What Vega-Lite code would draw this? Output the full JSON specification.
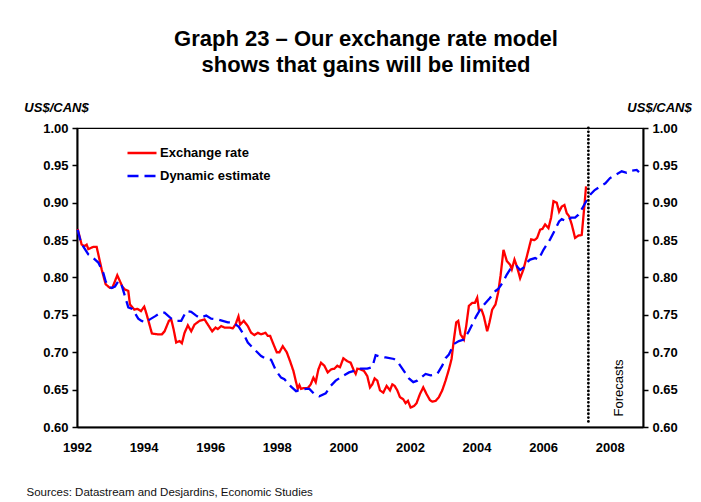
{
  "$schema": "https://vega.github.io/schema/vega-lite/v6.json",
  "width": 566,
  "height": 299,
  "autosize": "none",
  "padding": {"left": 77, "top": 128, "right": 58, "bottom": 75},
  "background": "white",
  "config": {
    "font": "Liberation Sans",
    "view": {"stroke": "black", "strokeWidth": 1.2},
    "axis": {
      "domainColor": "black", "domainWidth": 2, "grid": false,
      "labelFont": "Liberation Sans", "labelFontSize": 13, "labelFontWeight": "bold", "labelColor": "black",
      "tickColor": "black", "tickSize": 5, "tickWidth": 1.5, "labelOverlap": false, "labelFlush": false
    }
  },
  "title": {
    "text": ["Graph 23 – Our exchange rate model", "shows that gains will be limited"],
    "fontSize": 22, "fontWeight": "bold", "font": "Liberation Sans", "color": "black",
    "anchor": "middle", "frame": "group", "offset": 24, "lineHeight": 26, "dx": 6
  },
  "datasets": {
    "series": [
      {"t":1992.02,"v":0.865,"s":"Exchange rate"},{"t":1992.14,"v":0.844,"s":"Exchange rate"},{"t":1992.22,"v":0.842,"s":"Exchange rate"},{"t":1992.29,"v":0.844,"s":"Exchange rate"},{"t":1992.34,"v":0.838,"s":"Exchange rate"},{"t":1992.49,"v":0.841,"s":"Exchange rate"},{"t":1992.59,"v":0.841,"s":"Exchange rate"},{"t":1992.74,"v":0.811,"s":"Exchange rate"},{"t":1992.86,"v":0.791,"s":"Exchange rate"},{"t":1992.99,"v":0.786,"s":"Exchange rate"},
      {"t":1993.06,"v":0.786,"s":"Exchange rate"},{"t":1993.21,"v":0.803,"s":"Exchange rate"},{"t":1993.29,"v":0.795,"s":"Exchange rate"},{"t":1993.36,"v":0.788,"s":"Exchange rate"},{"t":1993.44,"v":0.784,"s":"Exchange rate"},{"t":1993.54,"v":0.782,"s":"Exchange rate"},{"t":1993.59,"v":0.764,"s":"Exchange rate"},{"t":1993.72,"v":0.757,"s":"Exchange rate"},{"t":1993.82,"v":0.758,"s":"Exchange rate"},{"t":1993.92,"v":0.755,"s":"Exchange rate"},
      {"t":1994.02,"v":0.761,"s":"Exchange rate"},{"t":1994.09,"v":0.751,"s":"Exchange rate"},{"t":1994.25,"v":0.725,"s":"Exchange rate"},{"t":1994.42,"v":0.724,"s":"Exchange rate"},{"t":1994.55,"v":0.724,"s":"Exchange rate"},{"t":1994.63,"v":0.728,"s":"Exchange rate"},{"t":1994.76,"v":0.742,"s":"Exchange rate"},{"t":1994.83,"v":0.744,"s":"Exchange rate"},{"t":1994.90,"v":0.731,"s":"Exchange rate"},{"t":1994.98,"v":0.713,"s":"Exchange rate"},
      {"t":1995.08,"v":0.715,"s":"Exchange rate"},{"t":1995.15,"v":0.712,"s":"Exchange rate"},{"t":1995.23,"v":0.726,"s":"Exchange rate"},{"t":1995.33,"v":0.736,"s":"Exchange rate"},{"t":1995.43,"v":0.728,"s":"Exchange rate"},{"t":1995.53,"v":0.737,"s":"Exchange rate"},{"t":1995.68,"v":0.742,"s":"Exchange rate"},{"t":1995.83,"v":0.744,"s":"Exchange rate"},{"t":1995.93,"v":0.737,"s":"Exchange rate"},
      {"t":1996.06,"v":0.728,"s":"Exchange rate"},{"t":1996.16,"v":0.733,"s":"Exchange rate"},{"t":1996.23,"v":0.731,"s":"Exchange rate"},{"t":1996.33,"v":0.735,"s":"Exchange rate"},{"t":1996.43,"v":0.733,"s":"Exchange rate"},{"t":1996.58,"v":0.733,"s":"Exchange rate"},{"t":1996.68,"v":0.732,"s":"Exchange rate"},{"t":1996.76,"v":0.737,"s":"Exchange rate"},{"t":1996.85,"v":0.748,"s":"Exchange rate"},{"t":1996.90,"v":0.737,"s":"Exchange rate"},
      {"t":1997.01,"v":0.742,"s":"Exchange rate"},{"t":1997.13,"v":0.735,"s":"Exchange rate"},{"t":1997.23,"v":0.726,"s":"Exchange rate"},{"t":1997.33,"v":0.723,"s":"Exchange rate"},{"t":1997.43,"v":0.726,"s":"Exchange rate"},{"t":1997.53,"v":0.724,"s":"Exchange rate"},{"t":1997.66,"v":0.726,"s":"Exchange rate"},{"t":1997.73,"v":0.722,"s":"Exchange rate"},{"t":1997.80,"v":0.722,"s":"Exchange rate"},{"t":1997.88,"v":0.713,"s":"Exchange rate"},
      {"t":1998.00,"v":0.700,"s":"Exchange rate"},{"t":1998.08,"v":0.700,"s":"Exchange rate"},{"t":1998.18,"v":0.708,"s":"Exchange rate"},{"t":1998.30,"v":0.700,"s":"Exchange rate"},{"t":1998.40,"v":0.688,"s":"Exchange rate"},{"t":1998.50,"v":0.675,"s":"Exchange rate"},{"t":1998.58,"v":0.660,"s":"Exchange rate"},{"t":1998.63,"v":0.651,"s":"Exchange rate"},{"t":1998.68,"v":0.656,"s":"Exchange rate"},{"t":1998.73,"v":0.651,"s":"Exchange rate"},{"t":1998.80,"v":0.652,"s":"Exchange rate"},{"t":1998.93,"v":0.652,"s":"Exchange rate"},
      {"t":1999.02,"v":0.657,"s":"Exchange rate"},{"t":1999.10,"v":0.666,"s":"Exchange rate"},{"t":1999.17,"v":0.660,"s":"Exchange rate"},{"t":1999.25,"v":0.677,"s":"Exchange rate"},{"t":1999.33,"v":0.686,"s":"Exchange rate"},{"t":1999.43,"v":0.682,"s":"Exchange rate"},{"t":1999.53,"v":0.673,"s":"Exchange rate"},{"t":1999.63,"v":0.677,"s":"Exchange rate"},{"t":1999.73,"v":0.678,"s":"Exchange rate"},{"t":1999.82,"v":0.682,"s":"Exchange rate"},{"t":1999.90,"v":0.680,"s":"Exchange rate"},
      {"t":2000.00,"v":0.692,"s":"Exchange rate"},{"t":2000.12,"v":0.688,"s":"Exchange rate"},{"t":2000.22,"v":0.686,"s":"Exchange rate"},{"t":2000.32,"v":0.675,"s":"Exchange rate"},{"t":2000.37,"v":0.671,"s":"Exchange rate"},{"t":2000.42,"v":0.678,"s":"Exchange rate"},{"t":2000.52,"v":0.677,"s":"Exchange rate"},{"t":2000.62,"v":0.675,"s":"Exchange rate"},{"t":2000.72,"v":0.668,"s":"Exchange rate"},{"t":2000.80,"v":0.653,"s":"Exchange rate"},{"t":2000.87,"v":0.657,"s":"Exchange rate"},{"t":2000.94,"v":0.665,"s":"Exchange rate"},
      {"t":2001.02,"v":0.662,"s":"Exchange rate"},{"t":2001.10,"v":0.649,"s":"Exchange rate"},{"t":2001.20,"v":0.646,"s":"Exchange rate"},{"t":2001.30,"v":0.655,"s":"Exchange rate"},{"t":2001.40,"v":0.649,"s":"Exchange rate"},{"t":2001.47,"v":0.657,"s":"Exchange rate"},{"t":2001.54,"v":0.655,"s":"Exchange rate"},{"t":2001.62,"v":0.649,"s":"Exchange rate"},{"t":2001.70,"v":0.640,"s":"Exchange rate"},{"t":2001.80,"v":0.637,"s":"Exchange rate"},{"t":2001.87,"v":0.632,"s":"Exchange rate"},{"t":2001.94,"v":0.635,"s":"Exchange rate"},
      {"t":2002.02,"v":0.626,"s":"Exchange rate"},{"t":2002.12,"v":0.628,"s":"Exchange rate"},{"t":2002.20,"v":0.632,"s":"Exchange rate"},{"t":2002.30,"v":0.644,"s":"Exchange rate"},{"t":2002.40,"v":0.653,"s":"Exchange rate"},{"t":2002.50,"v":0.644,"s":"Exchange rate"},{"t":2002.60,"v":0.636,"s":"Exchange rate"},{"t":2002.67,"v":0.634,"s":"Exchange rate"},{"t":2002.77,"v":0.635,"s":"Exchange rate"},{"t":2002.87,"v":0.640,"s":"Exchange rate"},{"t":2002.97,"v":0.649,"s":"Exchange rate"},
      {"t":2003.07,"v":0.662,"s":"Exchange rate"},{"t":2003.17,"v":0.677,"s":"Exchange rate"},{"t":2003.25,"v":0.691,"s":"Exchange rate"},{"t":2003.32,"v":0.717,"s":"Exchange rate"},{"t":2003.39,"v":0.740,"s":"Exchange rate"},{"t":2003.45,"v":0.742,"s":"Exchange rate"},{"t":2003.52,"v":0.724,"s":"Exchange rate"},{"t":2003.62,"v":0.717,"s":"Exchange rate"},{"t":2003.69,"v":0.735,"s":"Exchange rate"},{"t":2003.77,"v":0.762,"s":"Exchange rate"},{"t":2003.87,"v":0.766,"s":"Exchange rate"},{"t":2003.95,"v":0.766,"s":"Exchange rate"},
      {"t":2004.02,"v":0.773,"s":"Exchange rate"},{"t":2004.07,"v":0.757,"s":"Exchange rate"},{"t":2004.15,"v":0.757,"s":"Exchange rate"},{"t":2004.22,"v":0.748,"s":"Exchange rate"},{"t":2004.32,"v":0.728,"s":"Exchange rate"},{"t":2004.39,"v":0.740,"s":"Exchange rate"},{"t":2004.47,"v":0.757,"s":"Exchange rate"},{"t":2004.57,"v":0.764,"s":"Exchange rate"},{"t":2004.65,"v":0.780,"s":"Exchange rate"},{"t":2004.72,"v":0.802,"s":"Exchange rate"},{"t":2004.81,"v":0.837,"s":"Exchange rate"},{"t":2004.91,"v":0.822,"s":"Exchange rate"},
      {"t":2005.01,"v":0.817,"s":"Exchange rate"},{"t":2005.06,"v":0.811,"s":"Exchange rate"},{"t":2005.14,"v":0.824,"s":"Exchange rate"},{"t":2005.21,"v":0.815,"s":"Exchange rate"},{"t":2005.31,"v":0.799,"s":"Exchange rate"},{"t":2005.41,"v":0.811,"s":"Exchange rate"},{"t":2005.51,"v":0.828,"s":"Exchange rate"},{"t":2005.64,"v":0.851,"s":"Exchange rate"},{"t":2005.74,"v":0.850,"s":"Exchange rate"},{"t":2005.82,"v":0.853,"s":"Exchange rate"},{"t":2005.91,"v":0.864,"s":"Exchange rate"},{"t":2005.98,"v":0.865,"s":"Exchange rate"},
      {"t":2006.06,"v":0.871,"s":"Exchange rate"},{"t":2006.16,"v":0.866,"s":"Exchange rate"},{"t":2006.24,"v":0.880,"s":"Exchange rate"},{"t":2006.31,"v":0.902,"s":"Exchange rate"},{"t":2006.41,"v":0.900,"s":"Exchange rate"},{"t":2006.48,"v":0.888,"s":"Exchange rate"},{"t":2006.56,"v":0.895,"s":"Exchange rate"},{"t":2006.64,"v":0.897,"s":"Exchange rate"},{"t":2006.71,"v":0.886,"s":"Exchange rate"},{"t":2006.78,"v":0.882,"s":"Exchange rate"},{"t":2006.86,"v":0.871,"s":"Exchange rate"},{"t":2006.96,"v":0.853,"s":"Exchange rate"},
      {"t":2007.06,"v":0.856,"s":"Exchange rate"},{"t":2007.16,"v":0.857,"s":"Exchange rate"},{"t":2007.23,"v":0.891,"s":"Exchange rate"},{"t":2007.29,"v":0.922,"s":"Exchange rate"},

      {"t":1992.02,"v":0.864,"s":"Dynamic estimate"},{"t":1992.12,"v":0.846,"s":"Dynamic estimate"},{"t":1992.34,"v":0.831,"s":"Dynamic estimate"},{"t":1992.49,"v":0.826,"s":"Dynamic estimate"},{"t":1992.64,"v":0.820,"s":"Dynamic estimate"},{"t":1992.79,"v":0.806,"s":"Dynamic estimate"},{"t":1992.86,"v":0.795,"s":"Dynamic estimate"},{"t":1992.94,"v":0.788,"s":"Dynamic estimate"},
      {"t":1993.04,"v":0.786,"s":"Dynamic estimate"},{"t":1993.14,"v":0.788,"s":"Dynamic estimate"},{"t":1993.24,"v":0.795,"s":"Dynamic estimate"},{"t":1993.32,"v":0.793,"s":"Dynamic estimate"},{"t":1993.44,"v":0.775,"s":"Dynamic estimate"},{"t":1993.54,"v":0.760,"s":"Dynamic estimate"},{"t":1993.66,"v":0.758,"s":"Dynamic estimate"},{"t":1993.84,"v":0.745,"s":"Dynamic estimate"},{"t":1993.94,"v":0.742,"s":"Dynamic estimate"},
      {"t":1994.06,"v":0.740,"s":"Dynamic estimate"},{"t":1994.19,"v":0.744,"s":"Dynamic estimate"},{"t":1994.34,"v":0.748,"s":"Dynamic estimate"},{"t":1994.51,"v":0.753,"s":"Dynamic estimate"},{"t":1994.63,"v":0.753,"s":"Dynamic estimate"},{"t":1994.83,"v":0.745,"s":"Dynamic estimate"},{"t":1994.98,"v":0.742,"s":"Dynamic estimate"},
      {"t":1995.13,"v":0.742,"s":"Dynamic estimate"},{"t":1995.28,"v":0.755,"s":"Dynamic estimate"},{"t":1995.43,"v":0.754,"s":"Dynamic estimate"},{"t":1995.58,"v":0.749,"s":"Dynamic estimate"},{"t":1995.68,"v":0.746,"s":"Dynamic estimate"},{"t":1995.88,"v":0.749,"s":"Dynamic estimate"},
      {"t":1996.03,"v":0.745,"s":"Dynamic estimate"},{"t":1996.23,"v":0.744,"s":"Dynamic estimate"},{"t":1996.53,"v":0.740,"s":"Dynamic estimate"},{"t":1996.68,"v":0.740,"s":"Dynamic estimate"},{"t":1996.86,"v":0.734,"s":"Dynamic estimate"},
      {"t":1997.03,"v":0.722,"s":"Dynamic estimate"},{"t":1997.13,"v":0.713,"s":"Dynamic estimate"},{"t":1997.28,"v":0.706,"s":"Dynamic estimate"},{"t":1997.53,"v":0.695,"s":"Dynamic estimate"},{"t":1997.68,"v":0.691,"s":"Dynamic estimate"},{"t":1997.83,"v":0.690,"s":"Dynamic estimate"},{"t":1997.98,"v":0.675,"s":"Dynamic estimate"},
      {"t":1998.13,"v":0.666,"s":"Dynamic estimate"},{"t":1998.23,"v":0.664,"s":"Dynamic estimate"},{"t":1998.43,"v":0.654,"s":"Dynamic estimate"},{"t":1998.58,"v":0.648,"s":"Dynamic estimate"},{"t":1998.73,"v":0.650,"s":"Dynamic estimate"},{"t":1998.88,"v":0.651,"s":"Dynamic estimate"},{"t":1998.98,"v":0.651,"s":"Dynamic estimate"},
      {"t":1999.13,"v":0.644,"s":"Dynamic estimate"},{"t":1999.28,"v":0.641,"s":"Dynamic estimate"},{"t":1999.47,"v":0.645,"s":"Dynamic estimate"},{"t":1999.62,"v":0.655,"s":"Dynamic estimate"},{"t":1999.77,"v":0.662,"s":"Dynamic estimate"},{"t":1999.97,"v":0.668,"s":"Dynamic estimate"},
      {"t":2000.17,"v":0.673,"s":"Dynamic estimate"},{"t":2000.32,"v":0.675,"s":"Dynamic estimate"},{"t":2000.52,"v":0.678,"s":"Dynamic estimate"},{"t":2000.72,"v":0.678,"s":"Dynamic estimate"},{"t":2000.87,"v":0.680,"s":"Dynamic estimate"},{"t":2000.97,"v":0.696,"s":"Dynamic estimate"},
      {"t":2001.12,"v":0.694,"s":"Dynamic estimate"},{"t":2001.27,"v":0.693,"s":"Dynamic estimate"},{"t":2001.52,"v":0.691,"s":"Dynamic estimate"},{"t":2001.62,"v":0.688,"s":"Dynamic estimate"},{"t":2001.74,"v":0.680,"s":"Dynamic estimate"},{"t":2001.97,"v":0.665,"s":"Dynamic estimate"},
      {"t":2002.10,"v":0.660,"s":"Dynamic estimate"},{"t":2002.22,"v":0.662,"s":"Dynamic estimate"},{"t":2002.47,"v":0.671,"s":"Dynamic estimate"},{"t":2002.62,"v":0.669,"s":"Dynamic estimate"},{"t":2002.82,"v":0.671,"s":"Dynamic estimate"},{"t":2002.97,"v":0.682,"s":"Dynamic estimate"},
      {"t":2003.07,"v":0.692,"s":"Dynamic estimate"},{"t":2003.17,"v":0.697,"s":"Dynamic estimate"},{"t":2003.32,"v":0.711,"s":"Dynamic estimate"},{"t":2003.47,"v":0.715,"s":"Dynamic estimate"},{"t":2003.62,"v":0.717,"s":"Dynamic estimate"},{"t":2003.77,"v":0.728,"s":"Dynamic estimate"},{"t":2003.87,"v":0.737,"s":"Dynamic estimate"},{"t":2003.99,"v":0.748,"s":"Dynamic estimate"},
      {"t":2004.12,"v":0.758,"s":"Dynamic estimate"},{"t":2004.27,"v":0.766,"s":"Dynamic estimate"},{"t":2004.39,"v":0.772,"s":"Dynamic estimate"},{"t":2004.57,"v":0.782,"s":"Dynamic estimate"},{"t":2004.66,"v":0.785,"s":"Dynamic estimate"},{"t":2004.81,"v":0.795,"s":"Dynamic estimate"},{"t":2004.91,"v":0.804,"s":"Dynamic estimate"},
      {"t":2005.01,"v":0.811,"s":"Dynamic estimate"},{"t":2005.11,"v":0.814,"s":"Dynamic estimate"},{"t":2005.21,"v":0.815,"s":"Dynamic estimate"},{"t":2005.31,"v":0.810,"s":"Dynamic estimate"},{"t":2005.41,"v":0.813,"s":"Dynamic estimate"},{"t":2005.51,"v":0.820,"s":"Dynamic estimate"},{"t":2005.61,"v":0.824,"s":"Dynamic estimate"},{"t":2005.76,"v":0.826,"s":"Dynamic estimate"},{"t":2005.86,"v":0.824,"s":"Dynamic estimate"},
      {"t":2006.01,"v":0.837,"s":"Dynamic estimate"},{"t":2006.21,"v":0.851,"s":"Dynamic estimate"},{"t":2006.36,"v":0.864,"s":"Dynamic estimate"},{"t":2006.48,"v":0.875,"s":"Dynamic estimate"},{"t":2006.56,"v":0.878,"s":"Dynamic estimate"},{"t":2006.71,"v":0.875,"s":"Dynamic estimate"},{"t":2006.84,"v":0.880,"s":"Dynamic estimate"},{"t":2006.96,"v":0.880,"s":"Dynamic estimate"},
      {"t":2007.06,"v":0.884,"s":"Dynamic estimate"},{"t":2007.18,"v":0.893,"s":"Dynamic estimate"},{"t":2007.32,"v":0.904,"s":"Dynamic estimate"},{"t":2007.42,"v":0.911,"s":"Dynamic estimate"},{"t":2007.55,"v":0.917,"s":"Dynamic estimate"},{"t":2007.72,"v":0.922,"s":"Dynamic estimate"},{"t":2007.87,"v":0.926,"s":"Dynamic estimate"},
      {"t":2008.01,"v":0.933,"s":"Dynamic estimate"},{"t":2008.16,"v":0.937,"s":"Dynamic estimate"},{"t":2008.36,"v":0.942,"s":"Dynamic estimate"},{"t":2008.51,"v":0.940,"s":"Dynamic estimate"},{"t":2008.66,"v":0.943,"s":"Dynamic estimate"},{"t":2008.81,"v":0.944,"s":"Dynamic estimate"},{"t":2008.88,"v":0.941,"s":"Dynamic estimate"}
    ],
    "divider": [{"t": 2007.36, "top": 1.0, "bottom": 0.607}],
    "notes": [{"t": 2008.28, "v": 0.614, "label": "Forecasts"}]
  },
  "encoding": {
    "x": {
      "field": "t", "type": "quantitative",
      "scale": {"domain": [1992, 2009], "nice": false, "zero": false},
      "axis": {
        "values": [1992, 1994, 1996, 1998, 2000, 2002, 2004, 2006, 2008],
        "format": "d", "ticks": false, "labelPadding": 14,
        "title": "Sources: Datastream and Desjardins, Economic Studies",
        "titleX": -51, "titleY": 65, "titleAlign": "left", "titleBaseline": "middle",
        "titleFontSize": 11.5, "titleFontWeight": "normal", "titleColor": "#111111", "titleFont": "Liberation Sans"
      }
    }
  },
  "layer": [
    {
      "data": {"name": "series"},
      "mark": {"type": "line", "strokeWidth": 2.3},
      "encoding": {
        "y": {
          "field": "v", "type": "quantitative",
          "scale": {"domain": [0.6, 1.0], "nice": false, "zero": false},
          "axis": {
            "orient": "left",
            "values": [0.6, 0.65, 0.7, 0.75, 0.8, 0.85, 0.9, 0.95, 1.0],
            "format": ".2f", "labelPadding": 4,
            "title": "US$/CAN$", "titleAngle": 0, "titleX": -21, "titleY": -21,
            "titleAlign": "center", "titleBaseline": "middle",
            "titleFontSize": 13, "titleFontWeight": "bold", "titleFontStyle": "italic", "titleColor": "black"
          }
        },
        "color": {
          "field": "s", "type": "nominal",
          "scale": {"domain": ["Exchange rate", "Dynamic estimate"], "range": ["#FF0000", "#0000FF"]},
          "legend": {
            "title": null, "orient": "none", "legendX": 49, "legendY": 9,
            "symbolType": "stroke", "symbolSize": 841, "symbolStrokeWidth": 2.5,
            "labelFontSize": 13, "labelFontWeight": "bold", "labelColor": "black", "labelFont": "Liberation Sans",
            "labelOffset": 2, "rowPadding": -6, "padding": 0
          }
        },
        "strokeDash": {
          "field": "s", "type": "nominal",
          "scale": {"domain": ["Exchange rate", "Dynamic estimate"], "range": [[1, 0], [11, 6]]},
          "legend": {
            "title": null, "orient": "none", "legendX": 49, "legendY": 9,
            "symbolType": "stroke", "symbolSize": 841, "symbolStrokeWidth": 2.5,
            "labelFontSize": 13, "labelFontWeight": "bold", "labelColor": "black", "labelFont": "Liberation Sans",
            "labelOffset": 2, "rowPadding": -6, "padding": 0
          }
        }
      }
    },
    {
      "data": {"name": "divider"},
      "mark": {"type": "rule", "color": "black", "strokeWidth": 2.8, "strokeDash": [0.01, 3.8], "strokeCap": "round"},
      "encoding": {
        "y": {
          "field": "top", "type": "quantitative",
          "axis": {
            "orient": "right",
            "values": [0.6, 0.65, 0.7, 0.75, 0.8, 0.85, 0.9, 0.95, 1.0],
            "format": ".2f", "labelPadding": 4,
            "title": "US$/CAN$", "titleAngle": 0, "titleX": 16, "titleY": -21,
            "titleAlign": "center", "titleBaseline": "middle",
            "titleFontSize": 13, "titleFontWeight": "bold", "titleFontStyle": "italic", "titleColor": "black"
          }
        },
        "y2": {"field": "bottom"}
      }
    },
    {
      "data": {"name": "notes"},
      "mark": {"type": "text", "angle": 270, "align": "left", "baseline": "middle", "fontSize": 13, "font": "Liberation Sans", "color": "black"},
      "encoding": {
        "y": {"field": "v", "type": "quantitative", "axis": null},
        "text": {"field": "label"}
      }
    }
  ],
  "resolve": {"axis": {"y": "independent"}, "scale": {"y": "shared"}}
}
